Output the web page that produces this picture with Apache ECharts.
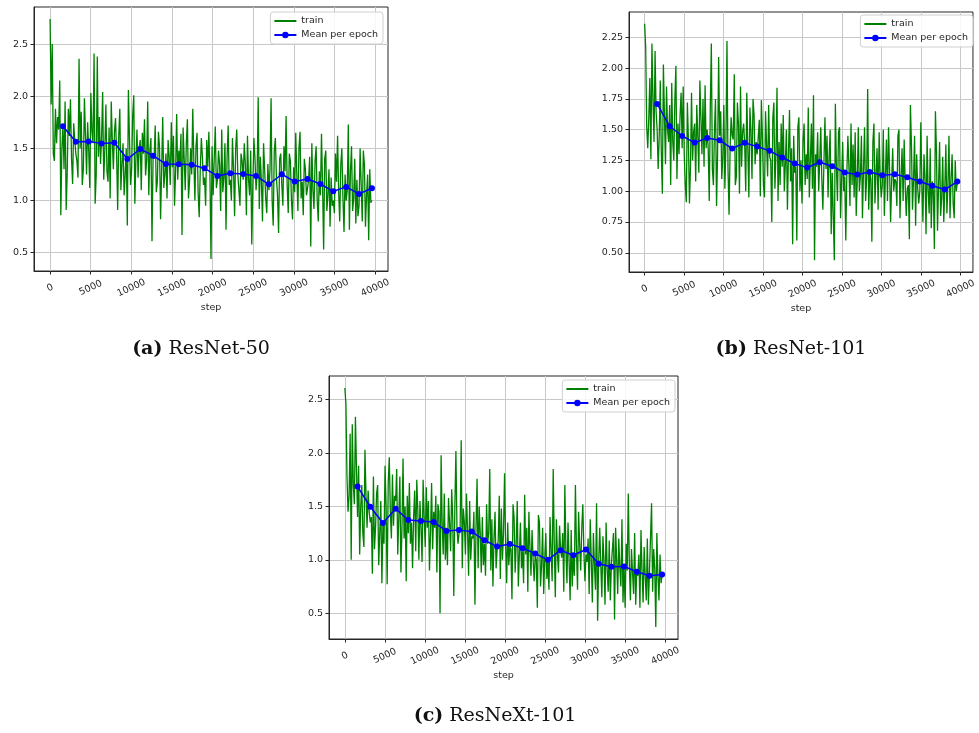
<!DOCTYPE html>
<html>
<head>
<meta charset="utf-8">
<script src="https://cdn.jsdelivr.net/npm/echarts@6/dist/echarts.min.js"></script>
<style>
  html, body { margin: 0; padding: 0; background: #ffffff; }
  #chart { width: 979px; height: 733px; }
</style>
</head>
<body>
<div id="chart"></div>
<script>
// Training loss logged every LOG_INTERVAL steps (12 logs per epoch);
// epoch means are plotted at each epoch end.
const LOG_INTERVAL = 132;

const epochEndSteps = [1584, 3168, 4752, 6336, 7920, 9504, 11088, 12672, 14256, 15840,
  17424, 19008, 20592, 22176, 23760, 25344, 26928, 28512, 30096, 31680,
  33264, 34848, 36432, 38016, 39600];

const stepTicks = [0, 5000, 10000, 15000, 20000, 25000, 30000, 35000, 40000];

// ---- ResNet-50 ----
const trainResNet50 = [
  2.74,
  1.92, 2.50, 1.45, 1.38, 1.88, 1.55, 1.80, 1.68, 2.15, 0.86, 1.50, 1.72,
  1.30, 1.95, 0.91, 1.28, 1.88, 1.62, 1.97, 1.40, 1.16, 1.74, 1.58, 1.45,
  1.38, 1.22, 2.36, 1.50, 1.85, 1.15, 1.30, 1.98, 1.62, 1.25, 1.75, 1.48,
  1.12, 2.03, 1.66, 1.55, 2.41, 0.97, 1.25, 2.38, 1.42, 1.80, 1.35, 1.60,
  2.04, 1.20, 1.48, 1.92, 1.28, 1.18, 1.70, 1.02, 1.95, 1.58, 1.30, 1.66,
  1.79, 1.45, 0.91, 1.62, 1.88, 1.10, 1.35, 1.55, 1.05, 1.25, 1.50, 0.76,
  2.06, 1.60, 1.15, 1.30, 1.82, 2.01, 0.97, 1.40, 1.68, 1.22, 1.50, 1.58,
  1.10, 1.65, 1.45, 1.78, 1.24, 1.38, 1.95, 1.05, 1.48, 1.60, 0.61, 1.42,
  1.40, 1.72, 1.08, 1.18, 1.66, 1.52, 0.82, 1.30, 1.80, 1.12, 1.25, 1.45,
  1.02, 1.58, 1.42, 1.15, 1.75, 1.32, 1.62, 0.95, 1.28, 1.83, 1.20, 1.48,
  1.35, 1.64, 0.67, 1.70, 1.40, 1.10, 1.55, 1.78, 1.02, 1.18, 1.50, 1.25,
  1.88, 1.38, 1.00, 1.52, 1.65, 1.08, 0.84, 1.30, 1.60, 1.42, 1.15, 1.22,
  0.95, 1.58, 1.32, 1.66, 1.25, 0.44, 1.52, 1.05, 1.40, 1.71, 1.12, 1.20,
  1.48, 1.35, 0.90, 1.68, 1.08, 1.22, 1.55, 0.72, 1.42, 1.72, 1.15, 1.20,
  1.00, 1.60, 1.30, 0.85, 1.50, 1.68, 1.25, 1.10, 0.95, 1.45, 1.38, 1.20,
  1.55, 1.35, 0.86, 1.62, 1.20, 1.05, 1.48, 0.58, 1.15, 1.60, 1.40, 1.10,
  1.25, 1.99, 0.92, 1.42, 1.18, 0.80, 1.55, 1.30, 1.02, 0.88, 1.35, 1.10,
  1.30, 1.98, 1.00, 0.76, 1.48, 1.60, 1.22, 1.05, 0.69, 1.40, 1.45, 1.15,
  0.95, 1.52, 1.28, 1.81, 1.15, 0.88, 1.45, 1.38, 1.00, 0.82, 1.32, 1.08,
  1.65, 1.25, 0.90, 1.50, 1.66, 1.02, 1.18, 0.86, 1.40, 1.30, 1.05, 1.12,
  1.20, 1.42, 0.56, 1.55, 1.10, 0.92, 1.38, 1.52, 1.00, 0.80, 1.28, 1.05,
  1.64, 1.15, 0.53, 1.40, 1.48, 0.90, 1.05, 1.30, 0.75, 1.22, 0.95, 1.00,
  0.88, 1.45, 1.18, 1.62, 1.08, 0.80, 1.35, 1.50, 1.02, 0.70, 1.25, 1.00,
  1.10, 1.73, 0.72, 1.28, 1.52, 0.90, 1.02, 1.40, 0.78, 1.20, 0.85, 0.95,
  1.50, 1.15, 0.80, 1.48, 1.35, 0.75, 1.05, 1.25, 0.62, 1.30, 0.98, 1.00
];
const meanResNet50 = [1.713, 1.564, 1.567, 1.548, 1.554, 1.398, 1.494, 1.430, 1.350, 1.347,
  1.344, 1.309, 1.236, 1.261, 1.255, 1.236, 1.156, 1.252, 1.182, 1.207,
  1.159, 1.089, 1.131, 1.064, 1.118];

// ---- ResNet-101 ----
const trainResNet101 = [
  2.36,
  2.17, 1.52, 1.35, 1.60, 1.92, 1.26, 2.20, 1.75, 1.40, 2.14, 1.65, 1.50,
  1.18, 1.45, 1.90, 1.32, 0.98, 2.03, 1.62, 1.22, 1.85, 1.50, 1.40, 1.70,
  1.05, 1.88, 1.40, 1.25, 1.75, 2.02, 1.10, 1.55, 1.30, 1.62, 1.80, 1.35,
  1.85, 1.30, 1.05, 0.91, 1.72, 1.42, 0.90, 1.20, 1.80, 1.25, 1.48, 1.55,
  1.08, 1.70, 1.45, 1.15, 1.90, 1.60, 1.30, 1.75, 1.20, 1.86, 1.35, 1.50,
  1.35, 0.92, 1.68, 2.20, 1.18, 1.05, 1.50, 1.75, 0.88, 1.30, 2.09, 1.45,
  1.65, 1.10, 1.28, 1.70, 1.02, 1.40, 2.22, 1.18, 0.81, 1.35, 1.60, 1.45,
  1.42, 1.95, 1.05, 1.12, 1.72, 1.55, 0.98, 1.85, 1.20, 1.48, 1.55, 1.38,
  1.00, 1.80, 1.35, 0.95, 1.68, 1.50, 1.10, 1.75, 1.62, 1.22, 1.40, 1.30,
  1.30, 1.58, 0.96, 1.74, 1.45, 1.05, 0.95, 1.65, 1.38, 1.12, 1.70, 1.28,
  1.25, 0.75, 1.60, 1.72, 1.02, 1.30, 1.84, 0.92, 1.40, 1.05, 1.55, 1.20,
  1.62, 1.00, 1.22, 1.50, 0.85, 1.30, 1.66, 1.08, 1.35, 0.57, 1.45, 1.15,
  1.20, 0.60, 1.52, 1.60, 1.00, 1.25, 0.90, 1.42, 1.55, 1.05, 1.30, 1.10,
  1.68, 0.95, 1.25, 1.55, 1.02, 1.78, 0.44, 1.30, 1.20, 1.48, 1.00, 1.25,
  1.52, 1.10, 0.85, 1.22, 1.60, 1.18, 1.45, 0.95, 1.28, 1.50, 0.65, 1.15,
  1.15, 0.44, 1.71, 1.20, 0.92, 1.48, 1.52, 0.78, 1.10, 1.40, 1.00, 1.12,
  0.60, 1.15, 1.45, 1.20, 0.88, 1.55, 1.05, 1.38, 0.95, 1.48, 0.80, 1.10,
  1.52, 1.00, 1.12, 1.45, 0.78, 1.18, 1.52, 0.92, 1.10, 1.83, 0.85, 1.15,
  1.10, 0.59, 1.40, 1.55, 0.90, 1.15, 1.35, 0.85, 1.48, 1.12, 0.95, 1.05,
  1.50, 0.80, 1.12, 1.42, 0.92, 1.52, 1.18, 0.75, 1.08, 1.35, 1.00, 1.10,
  1.08, 0.88, 1.45, 1.50, 0.78, 1.12, 1.35, 0.92, 1.42, 1.05, 0.80, 1.02,
  1.05, 0.61, 1.70, 1.38, 0.85, 1.10, 1.45, 0.72, 1.30, 1.02, 0.90, 1.00,
  1.56, 1.05, 0.75, 1.30, 1.12, 0.65, 1.45, 1.00, 0.82, 1.35, 0.70, 1.08,
  1.00, 0.53, 1.65, 1.32, 0.68, 1.05, 1.40, 0.80, 0.95, 1.28, 0.75, 1.02,
  1.38, 0.82, 1.05, 1.45, 0.78, 1.10, 1.30, 0.90, 0.78, 1.25, 1.00, 1.07
];
const meanResNet101 = [1.709, 1.528, 1.449, 1.395, 1.433, 1.414, 1.347, 1.393, 1.363, 1.328,
  1.274, 1.225, 1.192, 1.236, 1.203, 1.152, 1.136, 1.157, 1.130, 1.138,
  1.114, 1.079, 1.044, 1.014, 1.079];

// ---- ResNeXt-101 ----
const trainResNeXt101 = [
  2.61,
  2.46, 1.78, 1.45, 1.60, 2.18, 1.00, 2.27, 1.70, 1.52, 2.34, 1.85, 1.40,
  1.88, 1.05, 1.50, 1.70, 1.25, 1.12, 2.03, 1.60, 1.30, 1.65, 1.45, 1.35,
  1.40, 0.87, 1.78, 1.10, 1.30, 1.62, 1.70, 0.95, 1.25, 1.55, 0.78, 1.35,
  1.15, 1.88, 1.50, 0.77, 1.72, 1.96, 1.45, 1.20, 1.80, 1.32, 1.60, 1.55,
  1.85, 1.05, 1.40, 1.78, 0.88, 1.30, 1.95, 1.20, 1.50, 0.80, 1.60, 1.25,
  1.72, 1.15, 1.35, 0.92, 1.40, 1.65, 1.08, 1.75, 1.45, 1.00, 1.55, 1.30,
  0.98, 1.75, 1.40, 1.12, 1.68, 1.30, 1.55, 0.90, 1.25, 1.72, 1.10, 1.45,
  1.30, 1.60, 0.88, 1.52, 1.45, 0.50, 1.98, 1.35, 1.05, 1.62, 1.00, 1.30,
  0.95, 1.58, 1.35, 1.08, 1.66, 1.40, 0.66, 1.50, 2.02, 1.30, 1.15, 1.25,
  1.30, 2.12, 0.92, 1.48, 1.35, 1.05, 1.62, 1.28, 0.85, 1.55, 1.00, 1.22,
  1.20, 1.45, 0.58, 1.30, 1.76, 0.92, 1.50, 1.25, 0.88, 1.40, 0.95, 1.15,
  0.85, 1.52, 1.15, 1.25, 1.85, 0.90, 1.38, 0.75, 1.20, 1.45, 0.92, 1.10,
  1.18, 1.60, 0.82, 1.48, 1.00, 1.25, 1.81, 1.15, 0.78, 1.35, 0.95, 1.12,
  1.10, 0.63, 1.52, 1.40, 0.88, 1.15, 1.55, 0.75, 1.05, 1.35, 0.92, 1.08,
  0.78, 1.61, 1.05, 1.30, 0.70, 1.45, 1.12, 0.85, 1.28, 1.00, 0.80, 1.05,
  1.00, 0.55, 1.42, 1.35, 0.75, 0.95, 1.30, 0.68, 1.02, 1.25, 0.82, 0.98,
  0.72, 1.40, 1.08, 0.80, 1.85, 1.15, 0.65, 1.38, 1.05, 0.88, 1.32, 1.10,
  1.02, 1.25, 0.70, 1.70, 1.10, 0.78, 1.35, 1.00, 0.62, 1.28, 0.75, 1.05,
  0.85, 1.70, 1.10, 0.72, 1.45, 1.15, 0.90, 1.30, 1.52, 1.08, 0.80, 1.05,
  0.98, 1.20, 0.68, 1.38, 1.00, 0.60, 1.25, 0.95, 0.72, 1.53, 0.43, 0.98,
  1.30, 0.95, 0.65, 1.22, 1.00, 0.58, 1.35, 0.92, 0.70, 1.18, 0.62, 0.95,
  0.95, 1.25, 0.44, 1.30, 1.00, 0.68, 1.20, 0.92, 0.75, 1.38, 0.60, 0.95,
  0.55, 1.15, 0.90, 1.62, 0.95, 0.62, 1.10, 0.88, 0.68, 1.25, 0.58, 0.90,
  0.85, 1.05, 0.55, 1.28, 0.90, 0.60, 1.12, 0.85, 0.62, 1.20, 0.58, 0.88,
  0.88, 1.53, 0.70, 1.10, 0.92, 0.37, 1.25, 0.85, 0.62, 1.05, 0.78, 0.86
];
const meanResNeXt101 = [1.686, 1.497, 1.345, 1.478, 1.373, 1.363, 1.354, 1.270, 1.280, 1.264,
  1.183, 1.124, 1.149, 1.109, 1.059, 1.000, 1.090, 1.043, 1.096, 0.963,
  0.935, 0.938, 0.888, 0.851, 0.863];

const lossTicksHalf = [0.5, 1.0, 1.5, 2.0, 2.5];
const lossTicksQuarter = [0.5, 0.75, 1.0, 1.25, 1.5, 1.75, 2.0, 2.25];

const captions = ['ResNet-50', 'ResNet-101', 'ResNeXt-101'];
const captionTags = ['(a)', '(b)', '(c)'];

// ---- layout for the three panels ----
const panels = [
  { train: trainResNet50, mean: meanResNet50, grid: { left: 34, top: 7, width: 354, height: 264 },
    y: [0.325, 2.855], yTicks: lossTicksHalf, yDigits: 1,
    legend: { right: 596, top: 12 }, caption: { x: 201, y: 349 } },
  { train: trainResNet101, mean: meanResNet101, grid: { left: 629, top: 12, width: 349, height: 260 },
    y: [0.344, 2.456], yTicks: lossTicksQuarter, yDigits: 2,
    legend: { right: 6, top: 15 }, caption: { x: 791, y: 349 } },
  { train: trainResNeXt101, mean: meanResNeXt101, grid: { left: 329, top: 376, width: 349, height: 263 },
    y: [0.258, 2.722], yTicks: lossTicksHalf, yDigits: 1,
    legend: { right: 304, top: 380 }, caption: { x: 495, y: 716 } }
];

const AXIS_COLOR = '#262626';
const GRID_LINE = '#c8c8c8';
const TICK_FONT = { fontFamily: 'DejaVu Sans', fontSize: 9.5, color: AXIS_COLOR };

const option = {
  animation: false,
  backgroundColor: '#ffffff',
  grid: panels.map(p => Object.assign({
    show: true, borderColor: AXIS_COLOR, borderWidth: 1, backgroundColor: 'transparent'
  }, p.grid)),
  xAxis: panels.map((p, i) => ({
    type: 'value', gridIndex: i, min: -1980, max: 41580,
    name: 'step', nameLocation: 'middle', nameGap: 32,
    nameTextStyle: { fontFamily: 'DejaVu Sans', fontSize: 9.5, color: AXIS_COLOR },
    axisLine: { show: true, onZero: false, lineStyle: { color: AXIS_COLOR, width: 1 } },
    axisTick: { show: true, length: 3.5, customValues: stepTicks, lineStyle: { color: AXIS_COLOR } },
    axisLabel: Object.assign({
      customValues: stepTicks, rotate: 25, align: 'center', verticalAlign: 'middle', margin: 17,
      formatter: v => String(v)
    }, TICK_FONT),
    splitLine: { show: true, lineStyle: { color: GRID_LINE, width: 1 } }
  })),
  yAxis: panels.map((p, i) => ({
    type: 'value', gridIndex: i, min: p.y[0], max: p.y[1],
    axisLine: { show: true, onZero: false, lineStyle: { color: AXIS_COLOR, width: 1 } },
    axisTick: { show: true, length: 3.5, customValues: p.yTicks, lineStyle: { color: AXIS_COLOR } },
    axisLabel: Object.assign({
      customValues: p.yTicks, margin: 6, formatter: v => Number(v).toFixed(p.yDigits)
    }, TICK_FONT),
    splitLine: { show: true, lineStyle: { color: GRID_LINE, width: 1 } }
  })),
  legend: panels.map(p => ({
    // the raw loss entry is drawn as a plain line, without a marker
    data: [{ name: 'train', itemStyle: { opacity: 0 } }, { name: 'Mean per epoch' }],
    orient: 'vertical', right: p.legend.right, top: p.legend.top,
    itemWidth: 22, itemHeight: 8, itemGap: 4,
    padding: [4, 5, 4, 3],
    backgroundColor: 'rgba(255,255,255,0.85)', borderColor: '#d0d0d0', borderWidth: 1, borderRadius: 3,
    textStyle: { fontFamily: 'DejaVu Sans', fontSize: 9.5, color: AXIS_COLOR },
    selectedMode: false
  })),
  series: panels.flatMap((p, i) => [
    {
      type: 'line', name: 'train', xAxisIndex: i, yAxisIndex: i,
      data: p.train.map((v, k) => [k * LOG_INTERVAL, v]),
      symbol: 'none', lineStyle: { color: '#008000', width: 1.3 }, itemStyle: { color: '#008000' },
      z: 2
    },
    {
      type: 'line', name: 'Mean per epoch', xAxisIndex: i, yAxisIndex: i,
      data: p.mean.map((v, k) => [epochEndSteps[k], v]),
      symbol: 'circle', symbolSize: 6,
      lineStyle: { color: '#0000ff', width: 1.5 }, itemStyle: { color: '#0000ff' },
      z: 3
    }
  ]),
  graphic: panels.map((p, i) => ({
    type: 'text', x: p.caption.x, y: p.caption.y,
    style: {
      text: '{tag|' + captionTags[i] + '} ' + captions[i],
      align: 'center', verticalAlign: 'middle',
      font: '19px "DejaVu Serif"', fill: '#111111',
      rich: { tag: { font: 'bold 19px "DejaVu Serif"', fill: '#111111' } }
    }
  }))
};

const chart = echarts.init(document.getElementById('chart'), null, { renderer: 'canvas' });
chart.setOption(option);
</script>
</body>
</html>
